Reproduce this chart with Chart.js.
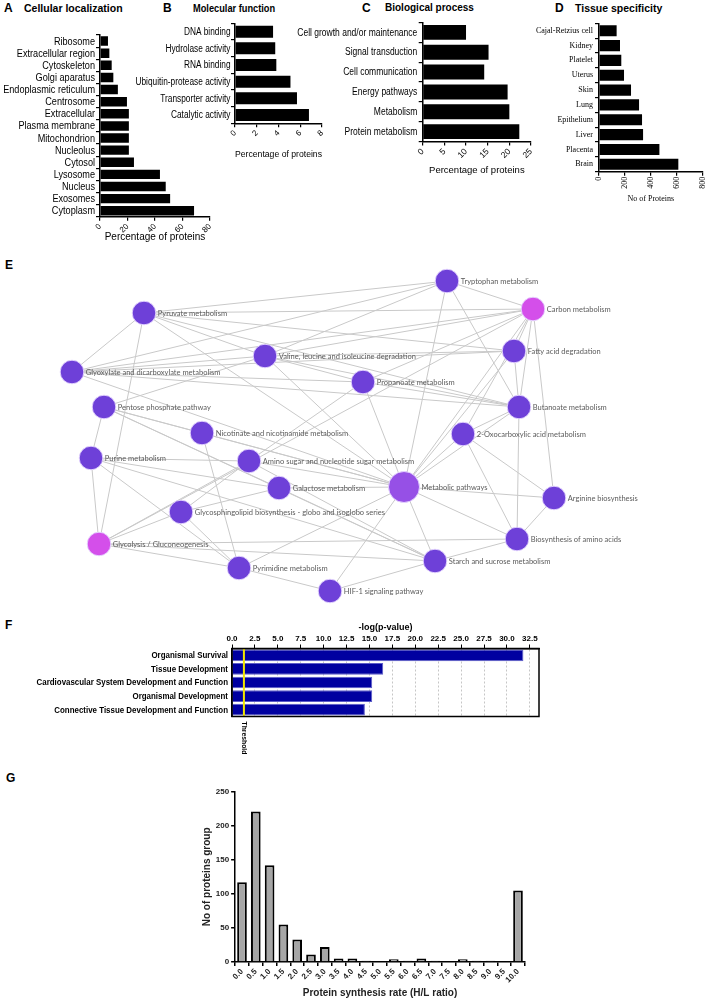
<!DOCTYPE html>
<html>
<head>
<meta charset="utf-8">
<script src="https://cdn.jsdelivr.net/npm/chart.js@4.4.1/dist/chart.umd.min.js"></script>
<style>
  body { margin: 0; background: #fff; width: 708px; height: 1000px; position: relative; overflow: hidden; font-family: 'Liberation Sans', Arial, sans-serif; }
  canvas { position: absolute; }
  .let { position: absolute; font-weight: bold; font-size: 12px; line-height: 14px; }
  .ttl { position: absolute; font-weight: bold; font-size: 10.5px; line-height: 14px; white-space: nowrap; transform-origin: left center; }
</style>
</head>
<body>
<div class="let" style="left:4px;top:1px">A</div>
<div class="ttl" style="left:24px;top:1px">Cellular localization</div>
<div class="let" style="left:163px;top:1px">B</div>
<div class="ttl" style="left:193px;top:1px;font-size:10.5px;transform:scaleX(0.88)">Molecular function</div>
<div class="let" style="left:362px;top:1px">C</div>
<div class="ttl" style="left:385px;top:1px;font-size:10px">Biological process</div>
<div class="let" style="left:555px;top:1px">D</div>
<div class="ttl" style="left:575px;top:1px">Tissue specificity</div>
<div class="let" style="left:5px;top:258px">E</div>
<div class="let" style="left:5px;top:618px">F</div>
<div class="let" style="left:6px;top:771px">G</div>

<canvas id="cA" width="215" height="243" style="left:0;top:0"></canvas>
<canvas id="cB" width="202" height="160" style="left:125px;top:0"></canvas>
<canvas id="cC" width="256" height="176" style="left:280px;top:0"></canvas>
<canvas id="cD" width="188" height="204" style="left:520px;top:0"></canvas>
<canvas id="cE" width="708" height="360" style="left:0;top:260px"></canvas>
<canvas id="cF" width="545" height="152" style="left:0;top:618px"></canvas>
<canvas id="cG" width="380" height="225" style="left:150px;top:775px"></canvas>

<script>
const SANS = "'Liberation Sans', Arial, sans-serif";
const SERIF = "'Liberation Serif', 'Times New Roman', serif";

// A - cellular localization (% of proteins)
const locLabels = ['Ribosome', 'Extracellular region', 'Cytoskeleton', 'Golgi aparatus', 'Endoplasmic reticulum',
  'Centrosome', 'Extracellular', 'Plasma membrane', 'Mitochondrion', 'Nucleolus', 'Cytosol', 'Lysosome',
  'Nucleus', 'Exosomes', 'Cytoplasm'];
const locValues = [5.8, 6.8, 8.5, 9.7, 13, 19.6, 21, 21, 21, 21, 24.7, 43.6, 47.8, 51, 68.4];

// B - molecular function
const funcLabels = ['DNA binding', 'Hydrolase activity', 'RNA binding', 'Ubiquitin-protease activity',
  'Transporter activity', 'Catalytic activity'];
const funcValues = [3.5, 3.7, 3.8, 5.1, 5.7, 6.8];

// C - biological process
const procLabels = ['Cell growth and/or maintenance', 'Signal transduction', 'Cell communication',
  'Energy pathways', 'Metabolism', 'Protein metabolism'];
const procValues = [10, 15.2, 14.2, 19.6, 20, 22.3];

// D - tissue specificity (no of proteins)
const tissueLabels = ['Cajal-Retzius cell', 'Kidney', 'Platelet', 'Uterus', 'Skin', 'Lung', 'Epithelium',
  'Liver', 'Placenta', 'Brain'];
const tissueValues = [136, 162, 172, 193, 247, 309, 332, 340, 466, 612];

// E - KEGG pathway network (layout coordinates) and links
const pathNames = ['Tryptophan metabolism', 'Carbon metabolism', 'Pyruvate metabolism',
  'Valine, leucine and isoleucine degradation', 'Fatty acid degradation',
  'Glyoxylate and dicarboxylate metabolism', 'Propanoate metabolism', 'Butanoate metabolism',
  'Pentose phosphate pathway', 'Nicotinate and nicotinamide metabolism', '2-Oxocarboxylic acid metabolism',
  'Purine metabolism', 'Amino sugar and nucleotide sugar metabolism', 'Galactose metabolism',
  'Metabolic pathways', 'Arginine biosynthesis', 'Glycosphingolipid biosynthesis - globo and isoglobo series',
  'Biosynthesis of amino acids', 'Glycolysis / Gluconeogenesis', 'Pyrimidine metabolism',
  'Starch and sucrose metabolism', 'HIF-1 signaling pathway'];
const pathX = [447, 533, 144, 265, 514, 72, 363, 519, 104, 202, 463, 91, 249, 279, 404, 554, 181, 517, 99, 239, 435, 330];
const pathY = [21, 49, 53, 96, 91, 112, 122, 147, 147, 173, 174, 198, 201, 228, 227, 238, 252, 279, 284, 308, 301, 331];
const pathLinks = [
  [2, 5], [2, 18], [2, 0], [2, 1], [2, 4], [2, 7], [2, 14], [2, 3],
  [5, 0], [5, 1], [5, 4], [5, 7], [5, 6], [5, 3], [5, 14],
  [8, 11], [8, 3], [8, 13], [8, 20], [8, 14], [8, 9],
  [11, 18], [11, 12], [11, 13], [11, 19], [11, 20],
  [18, 1], [18, 12], [18, 16], [18, 19], [18, 17], [18, 20],
  [9, 19], [9, 14], [12, 16], [12, 14], [12, 6], [12, 20],
  [13, 16], [13, 14], [13, 20], [16, 19], [19, 21], [19, 14], [21, 14], [21, 20],
  [14, 6], [14, 0], [14, 1], [14, 4], [14, 7], [14, 10], [14, 15], [14, 17], [14, 20], [14, 3],
  [20, 17], [17, 15], [17, 10], [17, 7], [10, 7], [10, 15], [10, 1],
  [0, 1], [0, 3], [0, 7], [3, 1], [3, 4], [3, 7], [3, 6], [6, 1], [6, 7], [4, 1], [4, 7], [7, 1], [1, 15]
];
const pinkPaths = ['Carbon metabolism', 'Glycolysis / Gluconeogenesis'];
const hubPath = 'Metabolic pathways';

// F - IPA top functions, -log(p-value)
const ipaLabels = ['Organismal Survival', 'Tissue Development', 'Cardiovascular System Development and Function',
  'Organismal Development', 'Connective Tissue Development and Function'];
const ipaValues = [31.8, 16.5, 15.3, 15.3, 14.5];
const ipaThreshold = 1.3;

// G - protein synthesis rate histogram
const rateBins = ['0.0', '0.5', '1.0', '1.5', '2.0', '2.5', '3.0', '3.5', '4.0', '4.5', '5.0', '5.5', '6.0',
  '6.5', '7.0', '7.5', '8.0', '8.5', '9.0', '9.5', '10.0'];
const rateCounts = [117, 221, 142, 55, 33, 11, 22, 5, 5, 2, 0, 4, 2, 5, 2, 0, 4, 2, 2, 1, 105];

Chart.defaults.color = '#000';
Chart.defaults.font.family = SANS;
Chart.defaults.animation = false;
Chart.defaults.plugins.legend.display = false;
Chart.defaults.plugins.tooltip.enabled = false;

// category labels drawn horizontally squeezed, like the narrow font of the original
const narrowTicks = {
  id: 'narrowTicks',
  afterDraw(chart, args, opts) {
    const ys = chart.scales.y;
    const ctx = chart.ctx;
    ctx.save();
    ctx.font = opts.font;
    ctx.fillStyle = '#000';
    ctx.textAlign = 'right';
    ctx.textBaseline = 'middle';
    chart.data.labels.forEach((lab, i) => {
      ctx.save();
      ctx.translate(ys.right - opts.gap, ys.getPixelForTick(i) + 0.5);
      ctx.scale(opts.squeeze, 1);
      ctx.fillText(lab, 0, 0);
      ctx.restore();
    });
    ctx.restore();
  }
};

function hbar(id, labels, values, o) {
  return new Chart(document.getElementById(id), {
    type: 'bar',
    data: {
      labels: labels,
      datasets: [{ data: values, backgroundColor: '#000', barPercentage: o.bp, categoryPercentage: 1 }]
    },
    options: {
      indexAxis: 'y',
      responsive: false,
      layout: { padding: { top: o.top, right: o.right, left: 0, bottom: 0 } },
      plugins: { narrowTicks: o.narrow || false },
      scales: {
        x: {
          min: 0, max: o.max,
          ticks: { stepSize: o.step, minRotation: o.rot, maxRotation: o.rot, font: o.tickFont, padding: 1 },
          grid: { drawOnChartArea: false, tickLength: 4, color: '#000', lineWidth: 1.2 },
          border: { color: '#000', width: 1.5 },
          title: { display: true, text: o.xTitle, font: o.titleFont, padding: { top: 0, bottom: 0 } },
          afterFit: s => { s.height = o.xh; s.paddingLeft = 0; s.paddingRight = 0; }
        },
        y: {
          ticks: { font: o.labFont, padding: 2, autoSkip: false, color: o.narrow ? 'rgba(0,0,0,0)' : '#000' },
          grid: { drawOnChartArea: false, tickLength: 4, color: '#000', lineWidth: 1.2 },
          border: { color: '#000', width: 1.5 },
          afterFit: s => { s.width = o.yw; }
        }
      }
    },
    plugins: o.narrow ? [narrowTicks] : []
  });
}

hbar('cA', locLabels, locValues, {
  bp: 0.78, top: 35, right: 5, max: 80, step: 20, rot: 45, xh: 26.2, yw: 100,
  tickFont: { family: SANS, size: 8 }, labFont: { family: SANS, size: 11 },
  titleFont: { family: SANS, size: 10 }, xTitle: 'Percentage of proteins',
  narrow: { font: '11px ' + SANS, squeeze: 0.83, gap: 5 }
});
hbar('cB', funcLabels, funcValues, {
  bp: 0.72, top: 23.3, right: 5, max: 8, step: 2, rot: 45, xh: 36.7, yw: 110,
  tickFont: { family: SANS, size: 8 }, labFont: { family: SANS, size: 10 },
  titleFont: { family: SANS, size: 9.5 }, xTitle: 'Percentage of proteins',
  narrow: { font: '10px ' + SANS, squeeze: 0.83, gap: 4.5 }
});
hbar('cC', procLabels, procValues, {
  bp: 0.75, top: 22.4, right: 5, max: 25, step: 5, rot: 45, xh: 34.4, yw: 142.7,
  tickFont: { family: SANS, size: 8.5 }, labFont: { family: SANS, size: 10 },
  titleFont: { family: SANS, size: 9.5 }, xTitle: 'Percentage of proteins',
  narrow: { font: '10px ' + SANS, squeeze: 0.85, gap: 5.4 }
});
hbar('cD', tissueLabels, tissueValues, {
  bp: 0.75, top: 23.3, right: 5.3, max: 800, step: 200, rot: 90, xh: 32.3, yw: 79,
  tickFont: { family: SERIF, size: 8 }, labFont: { family: SERIF, size: 8 },
  titleFont: { family: SERIF, size: 8 }, xTitle: 'No of Proteins'
});

// E - network drawn as a scatter with line segments for links
const nodeColor = pathNames.map(n => n === hubPath ? '#9650e6' : (pinkPaths.includes(n) ? '#d44fea' : '#6e40d8'));
const nodeRadius = pathNames.map(n => n === hubPath ? 15.5 : 11.8);
const netDatasets = [{
  type: 'scatter',
  data: pathNames.map((n, i) => ({ x: pathX[i], y: pathY[i] })),
  backgroundColor: nodeColor,
  borderColor: 'rgba(230,215,255,0.9)',
  borderWidth: 1,
  pointRadius: nodeRadius,
  order: 0
}];
pathLinks.forEach(([a, b]) => {
  netDatasets.push({
    type: 'scatter',
    showLine: true,
    data: [{ x: pathX[a], y: pathY[a] }, { x: pathX[b], y: pathY[b] }],
    borderColor: '#c9c9c9',
    borderWidth: 1,
    pointRadius: 0,
    order: 1
  });
});
const netLabels = {
  id: 'netLabels',
  afterDatasetsDraw(chart) {
    const ctx = chart.ctx;
    const meta = chart.getDatasetMeta(0);
    ctx.save();
    ctx.font = "7.5px Lato, 'Open Sans', sans-serif";
    ctx.fillStyle = '#5b5b5b';
    ctx.textBaseline = 'middle';
    meta.data.forEach((pt, i) => {
      ctx.fillText(pathNames[i], pt.x + nodeRadius[i] + 2, pt.y + 0.5);
    });
    ctx.restore();
  }
};
new Chart(document.getElementById('cE'), {
  type: 'scatter',
  data: { datasets: netDatasets },
  options: {
    responsive: false,
    layout: { padding: 0, autoPadding: false },
    scales: {
      x: { type: 'linear', min: 0, max: 708, display: false },
      y: { type: 'linear', min: 0, max: 360, reverse: true, display: false }
    }
  },
  plugins: [netLabels]
});

// F - IPA bar chart
const fBox = {
  id: 'fBox',
  afterDatasetsDraw(chart) {
    const { ctx, chartArea: a, scales } = chart;
    const x = scales.x.getPixelForValue(ipaThreshold);
    ctx.save();
    ctx.strokeStyle = '#f2e600';
    ctx.lineWidth = 2;
    ctx.beginPath();
    ctx.moveTo(x, a.top);
    ctx.lineTo(x, a.bottom);
    ctx.stroke();
    ctx.strokeStyle = '#000';
    ctx.lineWidth = 1.5;
    ctx.strokeRect(a.left, a.top, a.right - a.left, a.bottom - a.top);
    ctx.translate(x, a.bottom + 5);
    ctx.rotate(Math.PI / 2);
    ctx.scale(0.85, 1);
    ctx.fillStyle = '#000';
    ctx.font = "bold 8px " + SANS;
    ctx.textBaseline = 'middle';
    ctx.fillText('Threshold', 0, 0);
    ctx.restore();
  }
};
new Chart(document.getElementById('cF'), {
  type: 'bar',
  data: {
    labels: ipaLabels,
    datasets: [{ data: ipaValues, backgroundColor: '#0000a0', borderColor: '#5c5cc8', borderWidth: 1,
      barPercentage: 0.86, categoryPercentage: 1 }]
  },
  options: {
    indexAxis: 'y',
    responsive: false,
    layout: { padding: { top: 0, right: 6, bottom: 53.5, left: 0 } },
    plugins: { narrowTicks: { font: 'bold 9px ' + SANS, squeeze: 0.88, gap: 4 } },
    scales: {
      x: {
        position: 'top', min: 0, max: 33.5,
        ticks: { stepSize: 2.5, includeBounds: false, maxRotation: 0, padding: 1,
          callback: v => v.toFixed(1), font: { family: SANS, size: 8, weight: 'bold' } },
        grid: { color: '#b8b8b8', lineWidth: 0.8, tickLength: 4, tickColor: '#000', tickWidth: 1 },
        border: { color: '#000', width: 1.5, dash: [2, 2] },
        title: { display: true, text: '-log(p-value)', font: { family: SANS, size: 9, weight: 'bold' },
          padding: { top: 4, bottom: 0 } },
        afterFit: s => { s.height = 30.5; s.paddingLeft = 0; s.paddingRight = 0; }
      },
      y: {
        ticks: { font: { family: SANS, size: 9, weight: 'bold' }, padding: 3, autoSkip: false, color: 'rgba(0,0,0,0)' },
        grid: { display: false },
        border: { color: '#000', width: 1.5 },
        afterFit: s => { s.width = 232; }
      }
    }
  },
  plugins: [fBox, narrowTicks]
});

// G - histogram
new Chart(document.getElementById('cG'), {
  type: 'bar',
  data: {
    labels: rateBins,
    datasets: [{ data: rateCounts, backgroundColor: '#a6a6a6', borderColor: '#000', borderWidth: 2,
      barPercentage: 0.7, categoryPercentage: 1 }]
  },
  options: {
    responsive: false,
    layout: { padding: { top: 16.7, left: 47, right: 5.1, bottom: 0 } },
    scales: {
      x: {
        ticks: { minRotation: 45, maxRotation: 45, padding: 1, autoSkip: false,
          font: { family: SANS, size: 8, weight: 'bold' }, color: '#222' },
        grid: { drawOnChartArea: false, tickLength: 4, color: '#000', lineWidth: 1.5 },
        border: { color: '#000', width: 1.5 },
        title: { display: true, text: 'Protein synthesis rate (H/L ratio)', color: '#222',
          font: { family: SANS, size: 10, weight: 'bold' }, padding: { top: 0, bottom: 1 } },
        afterFit: s => { s.height = 38; s.paddingLeft = 0; s.paddingRight = 0; }
      },
      y: {
        min: 0, max: 250,
        ticks: { stepSize: 50, padding: 2, font: { family: SANS, size: 8, weight: 'bold' }, color: '#222' },
        grid: { drawOnChartArea: false, tickLength: 4, color: '#000', lineWidth: 1.5 },
        border: { color: '#000', width: 1.5 },
        title: { display: true, text: 'No of proteins group', color: '#222',
          font: { family: SANS, size: 10, weight: 'bold' } },
        afterFit: s => { s.width = 38.1; }
      }
    }
  }
});
</script>
</body>
</html>
